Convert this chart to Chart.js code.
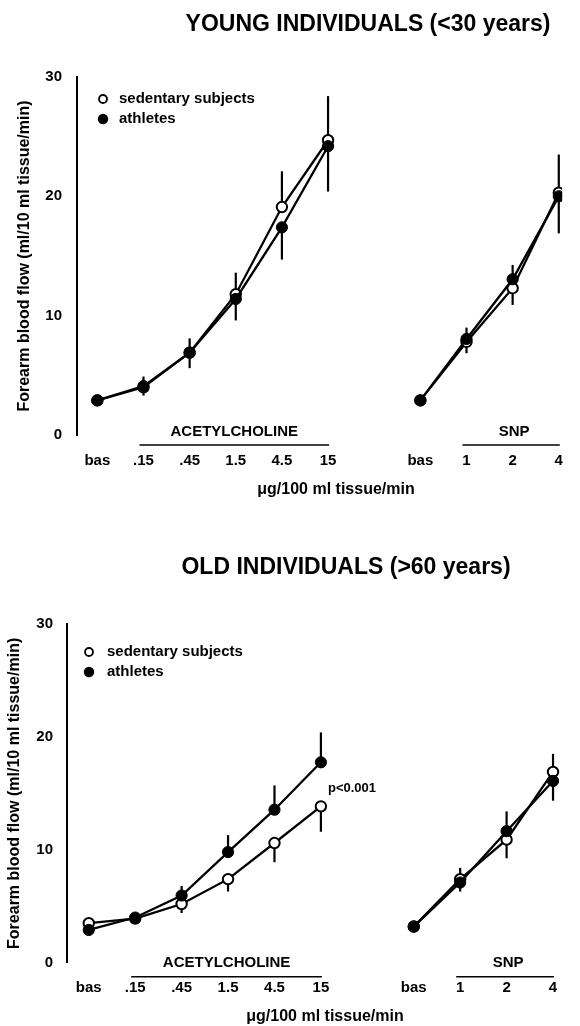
<!DOCTYPE html>
<html>
<head>
<meta charset="utf-8">
<script src="https://cdn.jsdelivr.net/npm/chart.js@4.4.1/dist/chart.umd.min.js"></script>
<style>
  html, body { margin: 0; padding: 0; background: #fff; }
  #wrap { position: relative; width: 580px; height: 1026px; overflow: hidden; }
  canvas { position: absolute; left: 0; }
</style>
</head>
<body>
<div id="wrap">
  <canvas id="young" width="580" height="510" style="top:0px"></canvas>
  <canvas id="old" width="580" height="516" style="top:510px"></canvas>
</div>
<script>
// ---------------- DATA ----------------
const categories = ['bas', '.15', '.45', '1.5', '4.5', '15', '', 'bas', '1', '2', '4'];
const yTicks = [0, 10, 20, 30];
const seriesNames = ['sedentary subjects', 'athletes'];
const groupNames = ['ACETYLCHOLINE', 'SNP'];
const xAxisTitle = 'μg/100 ml tissue/min';
const yAxisTitle = 'Forearm blood flow (ml/10 ml tissue/min)';
const youngTitle = 'YOUNG INDIVIDUALS (<30 years)';
const oldTitle = 'OLD INDIVIDUALS (>60 years)';
const pNote = 'p<0.001';

// Young individuals
const youngSed     = [2.9, 4.0, 6.9, 11.8, 19.1, 24.7, null, 2.9, 7.8, 12.3, 20.3];
const youngAth     = [2.9, 4.1, 6.9, 11.4, 17.4, 24.2, null, 2.9, 8.05, 13.05, 20.0];
const youngSedUp   = [0, 0.9, 1.2, 1.8, 3.0, 3.7, null, 0, 0, 0, 3.2];
const youngSedDown = [0, 0, 0, 0, 0, 0, null, 0, 0.95, 1.4, 0];
const youngAthUp   = [0, 0, 0, 0, 0, 0, null, 0, 0.95, 1.2, 0];
const youngAthDown = [0, 0.8, 1.3, 1.8, 2.7, 3.8, null, 0, 0, 0, 3.1];

// Old individuals
const oldSed     = [3.5, 3.9, 5.2, 7.4, 10.6, 13.85, null, 3.2, 7.4, 10.9, 16.9];
const oldAth     = [2.9, 4.0, 5.95, 9.8, 13.55, 17.75, null, 3.2, 7.1, 11.65, 16.1];
const oldSedUp   = [0, 0, 0, 0, 0, 0, null, 0, 1.0, 0, 1.6];
const oldSedDown = [0, 0.3, 0.8, 1.1, 1.7, 2.25, null, 0, 0, 1.65, 0];
const oldAthUp   = [0, 0.3, 0.85, 1.5, 2.15, 2.65, null, 0, 0, 1.75, 0];
const oldAthDown = [0, 0, 0, 0, 0, 0, null, 0, 0.8, 0, 1.75];

// ---------------- RENDERING ----------------
Chart.defaults.font.family = '"Liberation Sans", Arial, Helvetica, sans-serif';
Chart.defaults.color = '#000';

const FONT = '"Liberation Sans", Arial, Helvetica, sans-serif';

const decorPlugin = {
  id: 'decor',
  beforeDatasetsDraw(chart) {
    const o = chart.options.plugins.decor;
    const ctx = chart.ctx, xs = chart.scales.x, ys = chart.scales.y;
    ctx.save();
    ctx.strokeStyle = '#000';
    ctx.lineWidth = 2.2;
    o.errors.forEach(e => {
      e.values.forEach((v, i) => {
        if (v === null) return;
        const up = e.up[i] || 0, dn = e.down[i] || 0;
        if (!up && !dn) return;
        const x = xs.getPixelForValue(i);
        ctx.beginPath();
        ctx.moveTo(x, ys.getPixelForValue(v + up));
        ctx.lineTo(x, ys.getPixelForValue(v - dn));
        ctx.stroke();
      });
    });
    ctx.restore();
  },
  afterDraw(chart) {
    const o = chart.options.plugins.decor;
    const ctx = chart.ctx, xs = chart.scales.x;
    ctx.save();
    ctx.fillStyle = '#000';
    ctx.strokeStyle = '#000';
    // title
    ctx.font = 'bold ' + o.titleSize + 'px ' + FONT;
    ctx.textAlign = 'center';
    ctx.textBaseline = 'middle';
    ctx.fillText(o.title, o.titleX, o.titleY);
    // legend
    ctx.font = 'bold ' + o.legendSize + 'px ' + FONT;
    ctx.textAlign = 'left';
    seriesNames.forEach((name, k) => {
      const cy = o.legendY + k * o.legendGap;
      ctx.beginPath();
      ctx.arc(o.legendX, cy, k === 0 ? 4 : 5.2, 0, Math.PI * 2);
      if (k === 0) { ctx.fillStyle = '#fff'; ctx.fill(); ctx.lineWidth = 1.8; ctx.stroke(); }
      else { ctx.fillStyle = '#000'; ctx.fill(); }
      ctx.fillStyle = '#000';
      ctx.fillText(name, o.legendTextX, cy);
    });
    // group labels with lines
    ctx.font = 'bold ' + o.groupSize + 'px ' + FONT;
    ctx.textAlign = 'center';
    ctx.lineWidth = 1.5;
    o.groups.forEach((g, k) => {
      const x1 = xs.getPixelForValue(g[0]) - 4;
      const x2 = xs.getPixelForValue(g[1]) + 1;
      ctx.beginPath();
      ctx.moveTo(x1, o.groupLineY);
      ctx.lineTo(x2, o.groupLineY);
      ctx.stroke();
      ctx.fillText(groupNames[k], (x1 + x2) / 2 + (k === 1 ? 3 : 0), o.groupLabelY);
    });
    // x axis title
    ctx.font = 'bold ' + o.xTitleSize + 'px ' + FONT;
    ctx.fillText(xAxisTitle, o.xTitleX, o.xTitleY);
    // annotation
    if (o.note) {
      ctx.font = 'bold 13px ' + FONT;
      ctx.textAlign = 'left';
      ctx.fillText(o.note.text, o.note.x, o.note.y);
    }
    ctx.restore();
  }
};

function makeChart(id, cfg) {
  const height = document.getElementById(id).height;
  const mk = arr => arr.map((v, i) => ({ x: i, y: v }));
  new Chart(document.getElementById(id), {
    type: 'line',
    data: {
      datasets: [
        {
          label: seriesNames[1], data: mk(cfg.ath), borderColor: '#000', borderWidth: 2.3,
          pointRadius: 5.6, pointBackgroundColor: '#000', pointBorderColor: '#000', pointBorderWidth: 1,
          spanGaps: false, tension: 0
        },
        {
          label: seriesNames[0], data: mk(cfg.sed), borderColor: '#000', borderWidth: 2.3,
          pointRadius: 5.2, pointBackgroundColor: '#fff', pointBorderColor: '#000', pointBorderWidth: 2,
          spanGaps: false, tension: 0
        }
      ]
    },
    options: {
      responsive: false,
      animation: false,
      events: [],
      layout: { padding: { top: cfg.areaTop, right: 580 - cfg.areaRight, left: 0, bottom: 0 } },
      scales: {
        x: {
          type: 'linear',
          min: cfg.xMin, max: cfg.xMax,
          border: { display: false },
          grid: { display: false, drawTicks: false },
          afterFit: s => { s.height = height - cfg.areaBottom; },
          afterBuildTicks: s => {
            s.ticks = categories.map((c, i) => ({ value: i })).filter(t => categories[t.value] !== '');
          },
          ticks: {
            autoSkip: false, maxRotation: 0, padding: cfg.xTickPad,
            font: { size: 15, weight: 'bold' },
            callback: v => categories[v]
          }
        },
        y: {
          type: 'linear', min: 0, max: 30,
          border: { display: true, color: '#000', width: 2 },
          grid: { display: false, drawTicks: false },
          afterFit: s => { s.width = cfg.areaLeft; },
          afterBuildTicks: s => { s.ticks = yTicks.map(v => ({ value: v })); },
          ticks: { padding: cfg.yTickPad, font: { size: 15, weight: 'bold' } },
          title: {
            display: true, text: yAxisTitle,
            font: { size: 16, weight: 'bold' },
            padding: { top: cfg.yTitlePad, bottom: 0 }
          }
        }
      },
      plugins: {
        legend: { display: false },
        tooltip: { enabled: false },
        decor: {
          title: cfg.title, titleX: cfg.titleX, titleY: cfg.titleY, titleSize: 23,
          legendX: cfg.legendX, legendY: cfg.legendY, legendGap: 20, legendTextX: cfg.legendTextX, legendSize: 15,
          groups: [[1, 5], [8, 10]], groupLineY: cfg.groupLineY, groupLabelY: cfg.groupLabelY, groupSize: 15,
          xTitleX: cfg.xTitleX, xTitleY: cfg.xTitleY, xTitleSize: 16,
          note: cfg.note || null,
          errors: [
            { values: cfg.sed, up: cfg.sedUp, down: cfg.sedDown },
            { values: cfg.ath, up: cfg.athUp, down: cfg.athDown }
          ]
        }
      }
    },
    plugins: [decorPlugin]
  });
}

makeChart('young', {
  sed: youngSed, ath: youngAth,
  sedUp: youngSedUp, sedDown: youngSedDown, athUp: youngAthUp, athDown: youngAthDown,
  areaTop: 77, areaBottom: 435, areaLeft: 77, areaRight: 578,
  xMin: -0.441, xMax: 10.073,
  xTickPad: 17, yTickPad: 15, yTitlePad: 15,
  title: youngTitle, titleX: 368, titleY: 25,
  legendX: 103, legendY: 99, legendTextX: 119,
  groupLineY: 445, groupLabelY: 432,
  xTitleX: 336, xTitleY: 490
});

makeChart('old', {
  sed: oldSed, ath: oldAth,
  sedUp: oldSedUp, sedDown: oldSedDown, athUp: oldAthUp, athDown: oldAthDown,
  areaTop: 114, areaBottom: 452.7, areaLeft: 67, areaRight: 578,
  xMin: -0.469, xMax: 10.426,
  xTickPad: 16.6, yTickPad: 14, yTitlePad: 4.5,
  title: oldTitle, titleX: 346, titleY: 58,
  legendX: 89, legendY: 142, legendTextX: 107,
  groupLineY: 466.7, groupLabelY: 453.3,
  xTitleX: 325, xTitleY: 507,
  note: { text: pNote, x: 328, y: 278 }
});
</script>
</body>
</html>
